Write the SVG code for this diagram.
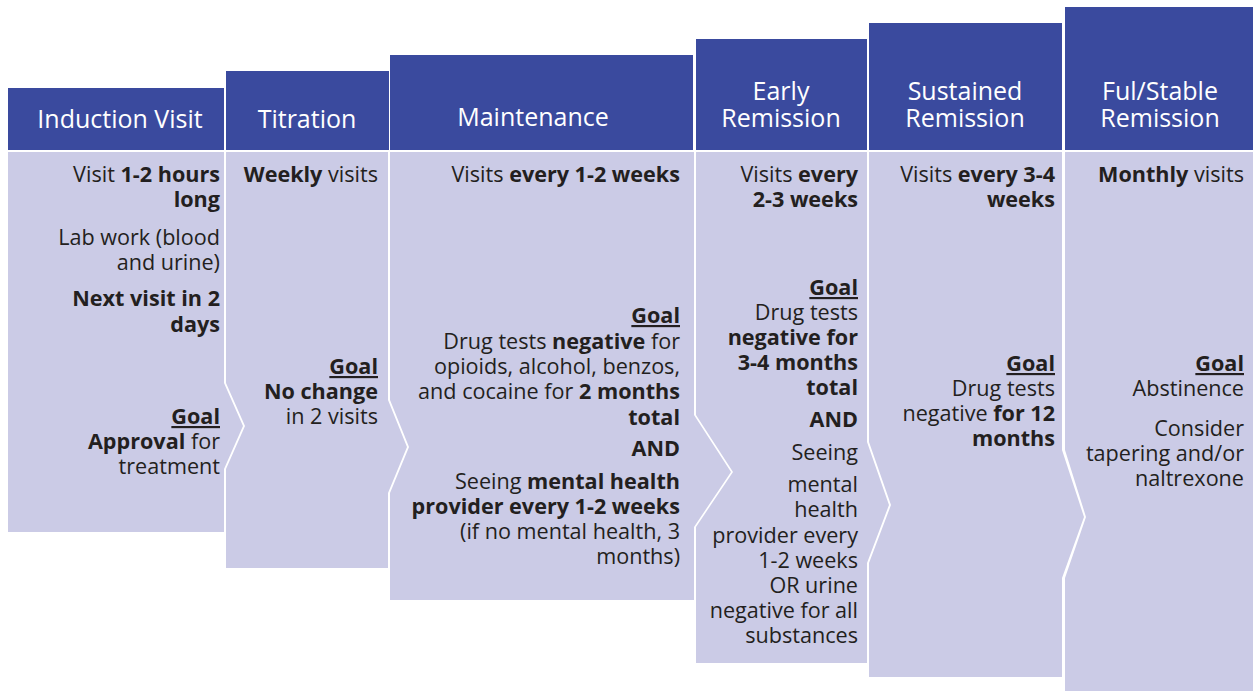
<svg xmlns="http://www.w3.org/2000/svg" width="1253" height="691" viewBox="0 0 1253 691">
<style>
.hd{fill:#3a4a9e}
.bd{fill:#cbcbe6}
.ht{font-family:"Open Sans","Noto Sans",sans-serif;font-size:25px;fill:#ffffff;text-anchor:middle}
.t{font-family:"Open Sans","Noto Sans",sans-serif;font-size:21.6px;fill:#231f20;text-anchor:end}
.b{font-weight:700}
.u{font-weight:700;text-decoration:underline}
</style>
<rect width="1253" height="691" fill="#ffffff"/>
<g id="induction">
<rect class="hd" x="8" y="88" width="216" height="62"/>
<polygon class="bd" points="8,152 224,152 224,383 243,426 224,469 224,532 8,532"/>
<text class="ht" x="120" y="128">Induction Visit</text>
<text class="t" x="220" y="182">Visit <tspan class="b">1-2 hours</tspan></text>
<text class="t b" x="220" y="207">long</text>
<text class="t" x="220" y="245">Lab work (blood</text>
<text class="t" x="220" y="270">and urine)</text>
<text class="t b" x="220" y="306">Next visit in 2</text>
<text class="t b" x="220" y="332">days</text>
<text class="t u" x="220" y="424">Goal</text>
<text class="t" x="220" y="449"><tspan class="b">Approval</tspan> for</text>
<text class="t" x="220" y="474">treatment</text>
</g>
<g id="titration">
<rect class="hd" x="226" y="71" width="163" height="79"/>
<polygon class="bd" points="226,152 388,152 388,400 407,447 388,493 388,568 226,568 226,469 245,426 226,383"/>
<text class="ht" x="307" y="128">Titration</text>
<text class="t" x="378" y="182"><tspan class="b">Weekly</tspan> visits</text>
<text class="t u" x="378" y="374">Goal</text>
<text class="t b" x="378" y="399">No change</text>
<text class="t" x="378" y="424">in 2 visits</text>
</g>
<g id="maintenance">
<rect class="hd" x="390" y="55" width="303" height="95"/>
<polygon class="bd" points="390,152 694,152 694,415 731,472 694,527 694,600 390,600 390,493 409,447 390,400"/>
<text class="ht" x="533" y="126">Maintenance</text>
<text class="t" x="680" y="182">Visits <tspan class="b">every 1-2 weeks</tspan></text>
<text class="t u" x="680" y="323">Goal</text>
<text class="t" x="680" y="349">Drug tests <tspan class="b">negative</tspan> for</text>
<text class="t" x="680" y="374">opioids, alcohol, benzos,</text>
<text class="t" x="680" y="399">and cocaine for <tspan class="b">2 months</tspan></text>
<text class="t b" x="680" y="425">total</text>
<text class="t b" x="680" y="456">AND</text>
<text class="t" x="680" y="489">Seeing <tspan class="b">mental health</tspan></text>
<text class="t b" x="680" y="514">provider every 1-2 weeks</text>
<text class="t" x="680" y="539">(if no mental health, 3</text>
<text class="t" x="680" y="564">months)</text>
</g>
<g id="early-remission">
<rect class="hd" x="696" y="39" width="171" height="111"/>
<polygon class="bd" points="696,152 867,152 867,442 889,505 867,563 867,663 696,663 696,527 733,472 696,415"/>
<text class="ht" x="781" y="100">Early</text>
<text class="ht" x="781" y="127">Remission</text>
<text class="t" x="858" y="182">Visits <tspan class="b">every</tspan></text>
<text class="t b" x="858" y="207">2-3 weeks</text>
<text class="t u" x="858" y="295">Goal</text>
<text class="t" x="858" y="320">Drug tests</text>
<text class="t b" x="858" y="345">negative for</text>
<text class="t b" x="858" y="370">3-4 months</text>
<text class="t b" x="858" y="395">total</text>
<text class="t b" x="858" y="427">AND</text>
<text class="t" x="858" y="460">Seeing</text>
<text class="t" x="858" y="492">mental</text>
<text class="t" x="858" y="517">health</text>
<text class="t" x="858" y="543">provider every</text>
<text class="t" x="858" y="568">1-2 weeks</text>
<text class="t" x="858" y="593">OR urine</text>
<text class="t" x="858" y="618">negative for all</text>
<text class="t" x="858" y="643">substances</text>
</g>
<g id="sustained-remission">
<rect class="hd" x="869" y="23" width="193" height="127"/>
<polygon class="bd" points="869,152 1062,152 1062,450 1084,517 1062,578 1062,677 869,677 869,563 891,505 869,442"/>
<text class="ht" x="965" y="100">Sustained</text>
<text class="ht" x="965" y="127">Remission</text>
<text class="t" x="1055" y="182">Visits <tspan class="b">every 3-4</tspan></text>
<text class="t b" x="1055" y="207">weeks</text>
<text class="t u" x="1055" y="371">Goal</text>
<text class="t" x="1055" y="396">Drug tests</text>
<text class="t" x="1055" y="421">negative <tspan class="b">for 12</tspan></text>
<text class="t b" x="1055" y="446">months</text>
</g>
<g id="full-stable-remission">
<rect class="hd" x="1065" y="7" width="188" height="143"/>
<polygon class="bd" points="1065,152 1253,152 1253,691 1065,691 1065,578 1086,517 1065,450"/>
<text class="ht" x="1160" y="100">Ful/Stable</text>
<text class="ht" x="1160" y="127">Remission</text>
<text class="t" x="1244" y="182"><tspan class="b">Monthly</tspan> visits</text>
<text class="t u" x="1244" y="371">Goal</text>
<text class="t" x="1244" y="396">Abstinence</text>
<text class="t" x="1244" y="436">Consider</text>
<text class="t" x="1244" y="461">tapering and/or</text>
<text class="t" x="1244" y="486">naltrexone</text>
</g>
</svg>
